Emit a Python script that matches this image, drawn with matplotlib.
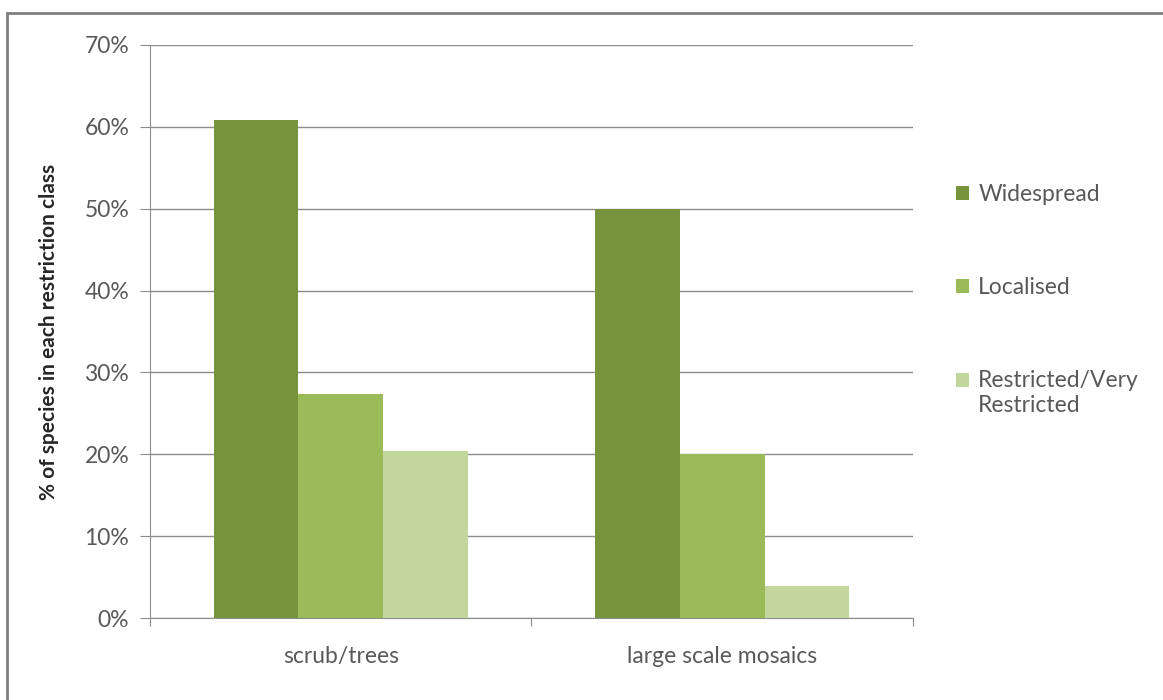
import numpy as np
import matplotlib.pyplot as plt
from matplotlib.patches import Rectangle
from matplotlib.legend_handler import HandlerPatch

# Share of species in each restriction class, per habitat type
categories = ["scrub/trees", "large scale mosaics"]
classes = ["Widespread", "Localised", "Restricted/Very\nRestricted"]
widespread = [60.8, 50.0]
localised = [27.4, 20.0]
restricted = [20.4, 3.9]
yticks = [0, 10, 20, 30, 40, 50, 60, 70]

colors = ["#77933C", "#9BBB59", "#C3D69B"]
text_grey = "#595959"
line_grey = "#8C8C8C"
fs = 16.5

plt.rcParams['font.family'] = ['Lato', 'DejaVu Sans']

fig = plt.figure(figsize=(11.63, 7), dpi=100)
ax = fig.add_axes([0.129, 0.117, 0.656, 0.819])

# outer chart frame (only top and left edges fall inside the image)
fig.patches.append(Rectangle((0.006, -0.05), 1.1, 0.031 + 1.0, transform=fig.transFigure,
                             fill=False, edgecolor="#7F7F7F", lw=2))

width = 1 / 4.5
centers = np.arange(len(categories)) + 0.5
containers = []
for i, (vals, name) in enumerate(zip([widespread, localised, restricted], classes)):
    bc = ax.bar(centers + (i - 1) * width, vals, width=width, color=colors[i], label=name, zorder=3)
    containers.append(bc)

ax.set_xlim(0, 2)
ax.set_ylim(0, 70)
ax.set_yticks(yticks)
ax.set_yticklabels([f"{v}%" for v in yticks])
ax.yaxis.grid(True, color=line_grey, lw=1, zorder=0)

# category boundaries carry tick marks, labels sit in the middle
ax.set_xticks([0, 1, 2])
ax.set_xticklabels([])
ax.set_xticks(centers, minor=True)
ax.set_xticklabels(categories, minor=True)
ax.tick_params(axis="x", which="minor", length=0, pad=20)
ax.tick_params(axis="x", which="major", length=6, color=line_grey, direction="out")
ax.tick_params(axis="y", length=7, color=line_grey, direction="out", pad=8)
ax.tick_params(labelsize=fs, labelcolor=text_grey)
ax.tick_params(axis="x", which="minor", labelsize=fs, labelcolor=text_grey)

for side in ["top", "right"]:
    ax.spines[side].set_visible(False)
for side in ["left", "bottom"]:
    ax.spines[side].set_color(line_grey)

ax.set_ylabel("% of species in each restriction class", fontsize=15, fontweight="bold",
              color="#262626", labelpad=18)


def square_handler(extra_lines):
    # two-line labels keep their square beside the first line
    def make(legend, orig_handle, xdescent, ydescent, width, height, fontsize):
        shift = extra_lines * 0.6 * fontsize
        return Rectangle((-xdescent, -ydescent + shift), width, height)
    return HandlerPatch(patch_func=make)


handles = [bc.patches[0] for bc in containers]
leg = ax.legend(handles, classes, loc="upper left", bbox_to_anchor=(1.03, 0.793), frameon=False,
                handlelength=0.55, handleheight=0.55, handletextpad=0.4,
                labelspacing=3.15, fontsize=fs, labelcolor=text_grey,
                handler_map={h: square_handler(lab.count("\n")) for h, lab in zip(handles, classes)})

fig.savefig("out.png", dpi=100, facecolor="white")
